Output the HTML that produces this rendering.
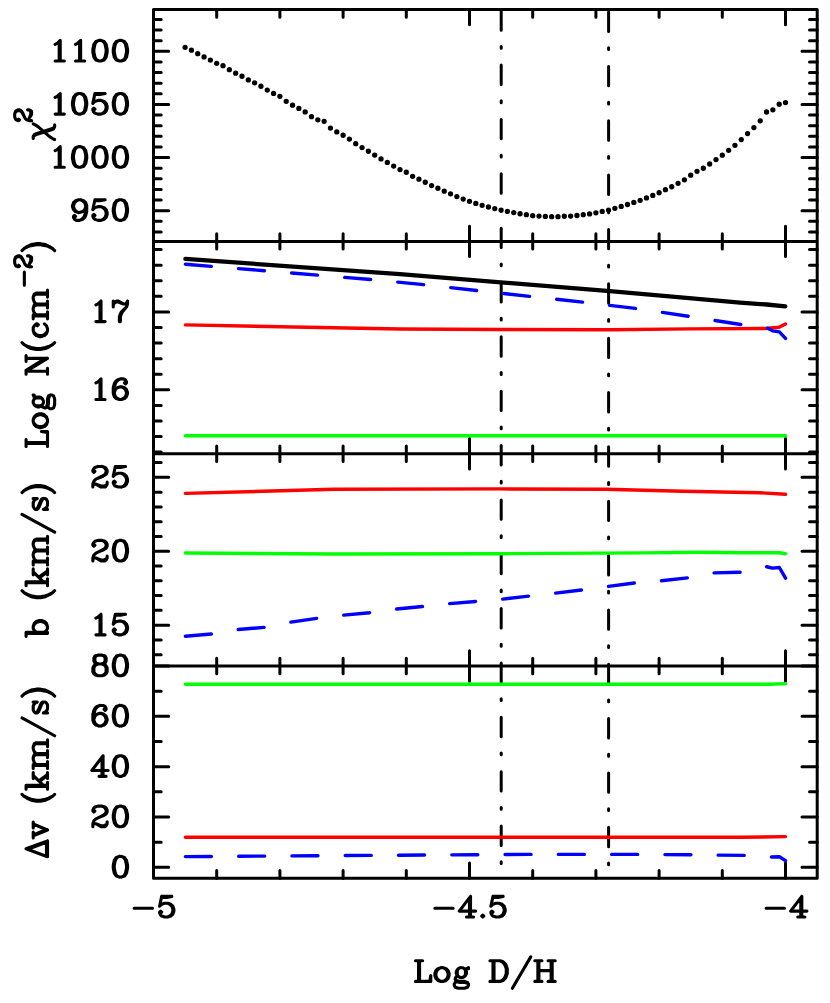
<!DOCTYPE html>
<html><head><meta charset="utf-8"><title>chart</title>
<style>html,body{margin:0;padding:0;background:#fff;font-family:"Liberation Sans",sans-serif}svg{display:block;position:absolute;left:0;top:0}</style></head>
<body><svg width="830" height="1003" viewBox="0 0 830 1003" fill="none" stroke-linecap="round" stroke-linejoin="round">
<path d="M153.5,9.6H817.2V878.2H153.5ZM153.5,241.4H817.2M153.5,453.7H817.2M153.5,666H817.2" stroke="#000" stroke-width="3" stroke-linejoin="round" stroke-linecap="butt"/>
<path d="M216.7,9.6V17.3M279.9,9.6V17.3M343.1,9.6V17.3M406.3,9.6V17.3M469.5,9.6V24.8M532.7,9.6V17.3M595.9,9.6V17.3M659.1,9.6V17.3M722.3,9.6V17.3M785.5,9.6V24.8M216.7,233.7V249.1M279.9,233.7V249.1M343.1,233.7V249.1M406.3,233.7V249.1M469.5,226.2V256.6M532.7,233.7V249.1M595.9,233.7V249.1M659.1,233.7V249.1M722.3,233.7V249.1M785.5,226.2V256.6M216.7,446V461.4M279.9,446V461.4M343.1,446V461.4M406.3,446V461.4M469.5,438.5V468.9M532.7,446V461.4M595.9,446V461.4M659.1,446V461.4M722.3,446V461.4M785.5,438.5V468.9M216.7,658.3V673.7M279.9,658.3V673.7M343.1,658.3V673.7M406.3,658.3V673.7M469.5,650.8V681.2M532.7,658.3V673.7M595.9,658.3V673.7M659.1,658.3V673.7M722.3,658.3V673.7M785.5,650.8V681.2M216.7,870.5V878.2M279.9,870.5V878.2M343.1,870.5V878.2M406.3,870.5V878.2M469.5,863V878.2M532.7,870.5V878.2M595.9,870.5V878.2M659.1,870.5V878.2M722.3,870.5V878.2M785.5,863V878.2" stroke="#000" stroke-width="3" />
<path d="M153.5,231.93H161.2M817.2,231.93H809.5M153.5,221.3H161.2M817.2,221.3H809.5M153.5,210.68H168.7M817.2,210.68H802M153.5,200.05H161.2M817.2,200.05H809.5M153.5,189.43H161.2M817.2,189.43H809.5M153.5,178.8H161.2M817.2,178.8H809.5M153.5,168.18H161.2M817.2,168.18H809.5M153.5,157.55H168.7M817.2,157.55H802M153.5,146.93H161.2M817.2,146.93H809.5M153.5,136.3H161.2M817.2,136.3H809.5M153.5,125.67H161.2M817.2,125.67H809.5M153.5,115.05H161.2M817.2,115.05H809.5M153.5,104.42H168.7M817.2,104.42H802M153.5,93.8H161.2M817.2,93.8H809.5M153.5,83.17H161.2M817.2,83.17H809.5M153.5,72.55H161.2M817.2,72.55H809.5M153.5,61.92H161.2M817.2,61.92H809.5M153.5,51.3H168.7M817.2,51.3H802M153.5,40.67H161.2M817.2,40.67H809.5M153.5,30.05H161.2M817.2,30.05H809.5M153.5,19.42H161.2M817.2,19.42H809.5M153.5,452.12H161.2M817.2,452.12H809.5M153.5,436.54H161.2M817.2,436.54H809.5M153.5,420.96H161.2M817.2,420.96H809.5M153.5,405.38H161.2M817.2,405.38H809.5M153.5,389.8H168.7M817.2,389.8H802M153.5,374.22H161.2M817.2,374.22H809.5M153.5,358.64H161.2M817.2,358.64H809.5M153.5,343.06H161.2M817.2,343.06H809.5M153.5,327.48H161.2M817.2,327.48H809.5M153.5,311.9H168.7M817.2,311.9H802M153.5,296.32H161.2M817.2,296.32H809.5M153.5,280.74H161.2M817.2,280.74H809.5M153.5,265.16H161.2M817.2,265.16H809.5M153.5,249.58H161.2M817.2,249.58H809.5M153.5,654.71H161.2M817.2,654.71H809.5M153.5,639.93H161.2M817.2,639.93H809.5M153.5,625.15H168.7M817.2,625.15H802M153.5,610.37H161.2M817.2,610.37H809.5M153.5,595.59H161.2M817.2,595.59H809.5M153.5,580.81H161.2M817.2,580.81H809.5M153.5,566.03H161.2M817.2,566.03H809.5M153.5,551.25H168.7M817.2,551.25H802M153.5,536.47H161.2M817.2,536.47H809.5M153.5,521.69H161.2M817.2,521.69H809.5M153.5,506.91H161.2M817.2,506.91H809.5M153.5,492.13H161.2M817.2,492.13H809.5M153.5,477.35H168.7M817.2,477.35H802M153.5,462.57H161.2M817.2,462.57H809.5M153.5,867.35H168.7M817.2,867.35H802M153.5,842.18H161.2M817.2,842.18H809.5M153.5,817.01H168.7M817.2,817.01H802M153.5,791.84H161.2M817.2,791.84H809.5M153.5,766.67H168.7M817.2,766.67H802M153.5,741.5H161.2M817.2,741.5H809.5M153.5,716.34H168.7M817.2,716.34H802M153.5,691.17H161.2M817.2,691.17H809.5M153.5,666H168.7M817.2,666H802" stroke="#000" stroke-width="3" />
<path d="M55.12,44.33L57.16,43.35L60.22,40.41L60.22,60.99M59.2,41.39L59.2,60.99M55.12,60.99L64.3,60.99M75.52,44.33L77.56,43.35L80.62,40.41L80.62,60.99M79.6,41.39L79.6,60.99M75.52,60.99L84.7,60.99M98.98,40.41L95.92,41.39L93.88,44.33L92.86,49.23L92.86,52.17L93.88,57.07L95.92,60.01L98.98,60.99L101.02,60.99L104.08,60.01L106.12,57.07L107.14,52.17L107.14,49.23L106.12,44.33L104.08,41.39L101.02,40.41L98.98,40.41M98.98,40.41L96.94,41.39L95.92,42.37L94.9,44.33L93.88,49.23L93.88,52.17L94.9,57.07L95.92,59.03L96.94,60.01L98.98,60.99M101.02,60.99L103.06,60.01L104.08,59.03L105.1,57.07L106.12,52.17L106.12,49.23L105.1,44.33L104.08,42.37L103.06,41.39L101.02,40.41M119.38,40.41L116.32,41.39L114.28,44.33L113.26,49.23L113.26,52.17L114.28,57.07L116.32,60.01L119.38,60.99L121.42,60.99L124.48,60.01L126.52,57.07L127.54,52.17L127.54,49.23L126.52,44.33L124.48,41.39L121.42,40.41L119.38,40.41M119.38,40.41L117.34,41.39L116.32,42.37L115.3,44.33L114.28,49.23L114.28,52.17L115.3,57.07L116.32,59.03L117.34,60.01L119.38,60.99M121.42,60.99L123.46,60.01L124.48,59.03L125.5,57.07L126.52,52.17L126.52,49.23L125.5,44.33L124.48,42.37L123.46,41.39L121.42,40.41M55.12,97.45L57.16,96.48L60.22,93.53L60.22,114.12M59.2,94.52L59.2,114.12M55.12,114.12L64.3,114.12M78.58,93.53L75.52,94.52L73.48,97.45L72.46,102.36L72.46,105.3L73.48,110.2L75.52,113.14L78.58,114.12L80.62,114.12L83.68,113.14L85.72,110.2L86.74,105.3L86.74,102.36L85.72,97.45L83.68,94.52L80.62,93.53L78.58,93.53M78.58,93.53L76.54,94.52L75.52,95.5L74.5,97.45L73.48,102.36L73.48,105.3L74.5,110.2L75.52,112.16L76.54,113.14L78.58,114.12M80.62,114.12L82.66,113.14L83.68,112.16L84.7,110.2L85.72,105.3L85.72,102.36L84.7,97.45L83.68,95.5L82.66,94.52L80.62,93.53M94.9,93.53L92.86,103.34M92.86,103.34L94.9,101.38L97.96,100.4L101.02,100.4L104.08,101.38L106.12,103.34L107.14,106.28L107.14,108.23L106.12,111.17L104.08,113.14L101.02,114.12L97.96,114.12L94.9,113.14L93.88,112.16L92.86,110.2L92.86,109.22L93.88,108.23L94.9,109.22L93.88,110.2M101.02,100.4L103.06,101.38L105.1,103.34L106.12,106.28L106.12,108.23L105.1,111.17L103.06,113.14L101.02,114.12M94.9,93.53L105.1,93.53M94.9,94.52L100,94.52L105.1,93.53M119.38,93.53L116.32,94.52L114.28,97.45L113.26,102.36L113.26,105.3L114.28,110.2L116.32,113.14L119.38,114.12L121.42,114.12L124.48,113.14L126.52,110.2L127.54,105.3L127.54,102.36L126.52,97.45L124.48,94.52L121.42,93.53L119.38,93.53M119.38,93.53L117.34,94.52L116.32,95.5L115.3,97.45L114.28,102.36L114.28,105.3L115.3,110.2L116.32,112.16L117.34,113.14L119.38,114.12M121.42,114.12L123.46,113.14L124.48,112.16L125.5,110.2L126.52,105.3L126.52,102.36L125.5,97.45L124.48,95.5L123.46,94.52L121.42,93.53M55.12,150.58L57.16,149.6L60.22,146.66L60.22,167.24M59.2,147.64L59.2,167.24M55.12,167.24L64.3,167.24M78.58,146.66L75.52,147.64L73.48,150.58L72.46,155.48L72.46,158.42L73.48,163.32L75.52,166.26L78.58,167.24L80.62,167.24L83.68,166.26L85.72,163.32L86.74,158.42L86.74,155.48L85.72,150.58L83.68,147.64L80.62,146.66L78.58,146.66M78.58,146.66L76.54,147.64L75.52,148.62L74.5,150.58L73.48,155.48L73.48,158.42L74.5,163.32L75.52,165.28L76.54,166.26L78.58,167.24M80.62,167.24L82.66,166.26L83.68,165.28L84.7,163.32L85.72,158.42L85.72,155.48L84.7,150.58L83.68,148.62L82.66,147.64L80.62,146.66M98.98,146.66L95.92,147.64L93.88,150.58L92.86,155.48L92.86,158.42L93.88,163.32L95.92,166.26L98.98,167.24L101.02,167.24L104.08,166.26L106.12,163.32L107.14,158.42L107.14,155.48L106.12,150.58L104.08,147.64L101.02,146.66L98.98,146.66M98.98,146.66L96.94,147.64L95.92,148.62L94.9,150.58L93.88,155.48L93.88,158.42L94.9,163.32L95.92,165.28L96.94,166.26L98.98,167.24M101.02,167.24L103.06,166.26L104.08,165.28L105.1,163.32L106.12,158.42L106.12,155.48L105.1,150.58L104.08,148.62L103.06,147.64L101.02,146.66M119.38,146.66L116.32,147.64L114.28,150.58L113.26,155.48L113.26,158.42L114.28,163.32L116.32,166.26L119.38,167.24L121.42,167.24L124.48,166.26L126.52,163.32L127.54,158.42L127.54,155.48L126.52,150.58L124.48,147.64L121.42,146.66L119.38,146.66M119.38,146.66L117.34,147.64L116.32,148.62L115.3,150.58L114.28,155.48L114.28,158.42L115.3,163.32L116.32,165.28L117.34,166.26L119.38,167.24M121.42,167.24L123.46,166.26L124.48,165.28L125.5,163.32L126.52,158.42L126.52,155.48L125.5,150.58L124.48,148.62L123.46,147.64L121.42,146.66M85.72,206.65L84.7,209.59L82.66,211.55L79.6,212.53L78.58,212.53L75.52,211.55L73.48,209.59L72.46,206.65L72.46,205.67L73.48,202.73L75.52,200.77L78.58,199.79L80.62,199.79L83.68,200.77L85.72,202.73L86.74,205.67L86.74,211.55L85.72,215.47L84.7,217.43L82.66,219.39L79.6,220.37L76.54,220.37L74.5,219.39L73.48,217.43L73.48,216.45L74.5,215.47L75.52,216.45L74.5,217.43M78.58,212.53L76.54,211.55L74.5,209.59L73.48,206.65L73.48,205.67L74.5,202.73L76.54,200.77L78.58,199.79M80.62,199.79L82.66,200.77L84.7,202.73L85.72,205.67L85.72,211.55L84.7,215.47L83.68,217.43L81.64,219.39L79.6,220.37M94.9,199.79L92.86,209.59M92.86,209.59L94.9,207.63L97.96,206.65L101.02,206.65L104.08,207.63L106.12,209.59L107.14,212.53L107.14,214.49L106.12,217.43L104.08,219.39L101.02,220.37L97.96,220.37L94.9,219.39L93.88,218.41L92.86,216.45L92.86,215.47L93.88,214.49L94.9,215.47L93.88,216.45M101.02,206.65L103.06,207.63L105.1,209.59L106.12,212.53L106.12,214.49L105.1,217.43L103.06,219.39L101.02,220.37M94.9,199.79L105.1,199.79M94.9,200.77L100,200.77L105.1,199.79M119.38,199.79L116.32,200.77L114.28,203.71L113.26,208.61L113.26,211.55L114.28,216.45L116.32,219.39L119.38,220.37L121.42,220.37L124.48,219.39L126.52,216.45L127.54,211.55L127.54,208.61L126.52,203.71L124.48,200.77L121.42,199.79L119.38,199.79M119.38,199.79L117.34,200.77L116.32,201.75L115.3,203.71L114.28,208.61L114.28,211.55L115.3,216.45L116.32,218.41L117.34,219.39L119.38,220.37M121.42,220.37L123.46,219.39L124.48,218.41L125.5,216.45L126.52,211.55L126.52,208.61L125.5,203.71L124.48,201.75L123.46,200.77L121.42,199.79M95.92,304.93L97.96,303.95L101.02,301.01L101.02,321.59M100,301.99L100,321.59M95.92,321.59L105.1,321.59M113.26,301.01L113.26,306.89M113.26,304.93L114.28,302.97L116.32,301.01L118.36,301.01L123.46,303.95L125.5,303.95L126.52,302.97L127.54,301.01M114.28,302.97L116.32,301.99L118.36,301.99L123.46,303.95M127.54,301.01L127.54,303.95L126.52,306.89L122.44,311.79L121.42,313.75L120.4,316.69L120.4,321.59M126.52,306.89L121.42,311.79L120.4,313.75L119.38,316.69L119.38,321.59M95.92,382.83L97.96,381.85L101.02,378.91L101.02,399.49M100,379.89L100,399.49M95.92,399.49L105.1,399.49M125.5,381.85L124.48,382.83L125.5,383.81L126.52,382.83L126.52,381.85L125.5,379.89L123.46,378.91L120.4,378.91L117.34,379.89L115.3,381.85L114.28,383.81L113.26,387.73L113.26,393.61L114.28,396.55L116.32,398.51L119.38,399.49L121.42,399.49L124.48,398.51L126.52,396.55L127.54,393.61L127.54,392.63L126.52,389.69L124.48,387.73L121.42,386.75L120.4,386.75L117.34,387.73L115.3,389.69L114.28,392.63M120.4,378.91L118.36,379.89L116.32,381.85L115.3,383.81L114.28,387.73L114.28,393.61L115.3,396.55L117.34,398.51L119.38,399.49M121.42,399.49L123.46,398.51L125.5,396.55L126.52,393.61L126.52,392.63L125.5,389.69L123.46,387.73L121.42,386.75M93.88,470.38L94.9,471.36L93.88,472.34L92.86,471.36L92.86,470.38L93.88,468.42L94.9,467.44L97.96,466.46L102.04,466.46L105.1,467.44L106.12,468.42L107.14,470.38L107.14,472.34L106.12,474.3L103.06,476.26L97.96,478.22L95.92,479.2L93.88,481.16L92.86,484.1L92.86,487.04M102.04,466.46L104.08,467.44L105.1,468.42L106.12,470.38L106.12,472.34L105.1,474.3L102.04,476.26L97.96,478.22M92.86,485.08L93.88,484.1L95.92,484.1L101.02,486.06L104.08,486.06L106.12,485.08L107.14,484.1M95.92,484.1L101.02,487.04L105.1,487.04L106.12,486.06L107.14,484.1L107.14,482.14M115.3,466.46L113.26,476.26M113.26,476.26L115.3,474.3L118.36,473.32L121.42,473.32L124.48,474.3L126.52,476.26L127.54,479.2L127.54,481.16L126.52,484.1L124.48,486.06L121.42,487.04L118.36,487.04L115.3,486.06L114.28,485.08L113.26,483.12L113.26,482.14L114.28,481.16L115.3,482.14L114.28,483.12M121.42,473.32L123.46,474.3L125.5,476.26L126.52,479.2L126.52,481.16L125.5,484.1L123.46,486.06L121.42,487.04M115.3,466.46L125.5,466.46M115.3,467.44L120.4,467.44L125.5,466.46M93.88,544.28L94.9,545.26L93.88,546.24L92.86,545.26L92.86,544.28L93.88,542.32L94.9,541.34L97.96,540.36L102.04,540.36L105.1,541.34L106.12,542.32L107.14,544.28L107.14,546.24L106.12,548.2L103.06,550.16L97.96,552.12L95.92,553.1L93.88,555.06L92.86,558L92.86,560.94M102.04,540.36L104.08,541.34L105.1,542.32L106.12,544.28L106.12,546.24L105.1,548.2L102.04,550.16L97.96,552.12M92.86,558.98L93.88,558L95.92,558L101.02,559.96L104.08,559.96L106.12,558.98L107.14,558M95.92,558L101.02,560.94L105.1,560.94L106.12,559.96L107.14,558L107.14,556.04M119.38,540.36L116.32,541.34L114.28,544.28L113.26,549.18L113.26,552.12L114.28,557.02L116.32,559.96L119.38,560.94L121.42,560.94L124.48,559.96L126.52,557.02L127.54,552.12L127.54,549.18L126.52,544.28L124.48,541.34L121.42,540.36L119.38,540.36M119.38,540.36L117.34,541.34L116.32,542.32L115.3,544.28L114.28,549.18L114.28,552.12L115.3,557.02L116.32,558.98L117.34,559.96L119.38,560.94M121.42,560.94L123.46,559.96L124.48,558.98L125.5,557.02L126.52,552.12L126.52,549.18L125.5,544.28L124.48,542.32L123.46,541.34L121.42,540.36M95.92,618.18L97.96,617.2L101.02,614.26L101.02,634.84M100,615.24L100,634.84M95.92,634.84L105.1,634.84M115.3,614.26L113.26,624.06M113.26,624.06L115.3,622.1L118.36,621.12L121.42,621.12L124.48,622.1L126.52,624.06L127.54,627L127.54,628.96L126.52,631.9L124.48,633.86L121.42,634.84L118.36,634.84L115.3,633.86L114.28,632.88L113.26,630.92L113.26,629.94L114.28,628.96L115.3,629.94L114.28,630.92M121.42,621.12L123.46,622.1L125.5,624.06L126.52,627L126.52,628.96L125.5,631.9L123.46,633.86L121.42,634.84M115.3,614.26L125.5,614.26M115.3,615.24L120.4,615.24L125.5,614.26M97.96,655.11L94.9,656.09L93.88,658.05L93.88,660.99L94.9,662.95L97.96,663.93L102.04,663.93L105.1,662.95L106.12,660.99L106.12,658.05L105.1,656.09L102.04,655.11L97.96,655.11M97.96,655.11L95.92,656.09L94.9,658.05L94.9,660.99L95.92,662.95L97.96,663.93M102.04,663.93L104.08,662.95L105.1,660.99L105.1,658.05L104.08,656.09L102.04,655.11M97.96,663.93L94.9,664.91L93.88,665.89L92.86,667.85L92.86,671.77L93.88,673.73L94.9,674.71L97.96,675.69L102.04,675.69L105.1,674.71L106.12,673.73L107.14,671.77L107.14,667.85L106.12,665.89L105.1,664.91L102.04,663.93M97.96,663.93L95.92,664.91L94.9,665.89L93.88,667.85L93.88,671.77L94.9,673.73L95.92,674.71L97.96,675.69M102.04,675.69L104.08,674.71L105.1,673.73L106.12,671.77L106.12,667.85L105.1,665.89L104.08,664.91L102.04,663.93M119.38,655.11L116.32,656.09L114.28,659.03L113.26,663.93L113.26,666.87L114.28,671.77L116.32,674.71L119.38,675.69L121.42,675.69L124.48,674.71L126.52,671.77L127.54,666.87L127.54,663.93L126.52,659.03L124.48,656.09L121.42,655.11L119.38,655.11M119.38,655.11L117.34,656.09L116.32,657.07L115.3,659.03L114.28,663.93L114.28,666.87L115.3,671.77L116.32,673.73L117.34,674.71L119.38,675.69M121.42,675.69L123.46,674.71L124.48,673.73L125.5,671.77L126.52,666.87L126.52,663.93L125.5,659.03L124.48,657.07L123.46,656.09L121.42,655.11M105.1,708.39L104.08,709.37L105.1,710.35L106.12,709.37L106.12,708.39L105.1,706.43L103.06,705.45L100,705.45L96.94,706.43L94.9,708.39L93.88,710.35L92.86,714.27L92.86,720.15L93.88,723.09L95.92,725.05L98.98,726.03L101.02,726.03L104.08,725.05L106.12,723.09L107.14,720.15L107.14,719.17L106.12,716.23L104.08,714.27L101.02,713.29L100,713.29L96.94,714.27L94.9,716.23L93.88,719.17M100,705.45L97.96,706.43L95.92,708.39L94.9,710.35L93.88,714.27L93.88,720.15L94.9,723.09L96.94,725.05L98.98,726.03M101.02,726.03L103.06,725.05L105.1,723.09L106.12,720.15L106.12,719.17L105.1,716.23L103.06,714.27L101.02,713.29M119.38,705.45L116.32,706.43L114.28,709.37L113.26,714.27L113.26,717.21L114.28,722.11L116.32,725.05L119.38,726.03L121.42,726.03L124.48,725.05L126.52,722.11L127.54,717.21L127.54,714.27L126.52,709.37L124.48,706.43L121.42,705.45L119.38,705.45M119.38,705.45L117.34,706.43L116.32,707.41L115.3,709.37L114.28,714.27L114.28,717.21L115.3,722.11L116.32,724.07L117.34,725.05L119.38,726.03M121.42,726.03L123.46,725.05L124.48,724.07L125.5,722.11L126.52,717.21L126.52,714.27L125.5,709.37L124.48,707.41L123.46,706.43L121.42,705.45M102.04,757.74L102.04,776.36M103.06,755.78L103.06,776.36M103.06,755.78L91.84,770.48L108.16,770.48M98.98,776.36L106.12,776.36M119.38,755.78L116.32,756.76L114.28,759.7L113.26,764.6L113.26,767.54L114.28,772.44L116.32,775.38L119.38,776.36L121.42,776.36L124.48,775.38L126.52,772.44L127.54,767.54L127.54,764.6L126.52,759.7L124.48,756.76L121.42,755.78L119.38,755.78M119.38,755.78L117.34,756.76L116.32,757.74L115.3,759.7L114.28,764.6L114.28,767.54L115.3,772.44L116.32,774.4L117.34,775.38L119.38,776.36M121.42,776.36L123.46,775.38L124.48,774.4L125.5,772.44L126.52,767.54L126.52,764.6L125.5,759.7L124.48,757.74L123.46,756.76L121.42,755.78M93.88,810.04L94.9,811.02L93.88,812L92.86,811.02L92.86,810.04L93.88,808.08L94.9,807.1L97.96,806.12L102.04,806.12L105.1,807.1L106.12,808.08L107.14,810.04L107.14,812L106.12,813.96L103.06,815.92L97.96,817.88L95.92,818.86L93.88,820.82L92.86,823.76L92.86,826.7M102.04,806.12L104.08,807.1L105.1,808.08L106.12,810.04L106.12,812L105.1,813.96L102.04,815.92L97.96,817.88M92.86,824.74L93.88,823.76L95.92,823.76L101.02,825.72L104.08,825.72L106.12,824.74L107.14,823.76M95.92,823.76L101.02,826.7L105.1,826.7L106.12,825.72L107.14,823.76L107.14,821.8M119.38,806.12L116.32,807.1L114.28,810.04L113.26,814.94L113.26,817.88L114.28,822.78L116.32,825.72L119.38,826.7L121.42,826.7L124.48,825.72L126.52,822.78L127.54,817.88L127.54,814.94L126.52,810.04L124.48,807.1L121.42,806.12L119.38,806.12M119.38,806.12L117.34,807.1L116.32,808.08L115.3,810.04L114.28,814.94L114.28,817.88L115.3,822.78L116.32,824.74L117.34,825.72L119.38,826.7M121.42,826.7L123.46,825.72L124.48,824.74L125.5,822.78L126.52,817.88L126.52,814.94L125.5,810.04L124.48,808.08L123.46,807.1L121.42,806.12M119.38,856.46L116.32,857.44L114.28,860.38L113.26,865.28L113.26,868.22L114.28,873.12L116.32,876.06L119.38,877.04L121.42,877.04L124.48,876.06L126.52,873.12L127.54,868.22L127.54,865.28L126.52,860.38L124.48,857.44L121.42,856.46L119.38,856.46M119.38,856.46L117.34,857.44L116.32,858.42L115.3,860.38L114.28,865.28L114.28,868.22L115.3,873.12L116.32,875.08L117.34,876.06L119.38,877.04M121.42,877.04L123.46,876.06L124.48,875.08L125.5,873.12L126.52,868.22L126.52,865.28L125.5,860.38L124.48,858.42L123.46,857.44L121.42,856.46M134.12,908.18L152.48,908.18M161.66,896.42L159.62,906.22M159.62,906.22L161.66,904.26L164.72,903.28L167.78,903.28L170.84,904.26L172.88,906.22L173.9,909.16L173.9,911.12L172.88,914.06L170.84,916.02L167.78,917L164.72,917L161.66,916.02L160.64,915.04L159.62,913.08L159.62,912.1L160.64,911.12L161.66,912.1L160.64,913.08M167.78,903.28L169.82,904.26L171.86,906.22L172.88,909.16L172.88,911.12L171.86,914.06L169.82,916.02L167.78,917M161.66,896.42L171.86,896.42M161.66,897.4L166.76,897.4L171.86,896.42M434.82,908.18L453.18,908.18M469.5,898.38L469.5,917M470.52,896.42L470.52,917M470.52,896.42L459.3,911.12L475.62,911.12M466.44,917L473.58,917M482.76,915.04L481.74,916.02L482.76,917L483.78,916.02L482.76,915.04M492.96,896.42L490.92,906.22M490.92,906.22L492.96,904.26L496.02,903.28L499.08,903.28L502.14,904.26L504.18,906.22L505.2,909.16L505.2,911.12L504.18,914.06L502.14,916.02L499.08,917L496.02,917L492.96,916.02L491.94,915.04L490.92,913.08L490.92,912.1L491.94,911.12L492.96,912.1L491.94,913.08M499.08,903.28L501.12,904.26L503.16,906.22L504.18,909.16L504.18,911.12L503.16,914.06L501.12,916.02L499.08,917M492.96,896.42L503.16,896.42M492.96,897.4L498.06,897.4L503.16,896.42M766.12,908.18L784.48,908.18M800.8,898.38L800.8,917M801.82,896.42L801.82,917M801.82,896.42L790.6,911.12L806.92,911.12M797.74,917L804.88,917M418.54,960.82L418.54,981.4M419.56,960.82L419.56,981.4M415.48,960.82L422.62,960.82M415.48,981.4L430.78,981.4L430.78,975.52L429.76,981.4M440.98,967.68L437.92,968.66L435.88,970.62L434.86,973.56L434.86,975.52L435.88,978.46L437.92,980.42L440.98,981.4L443.02,981.4L446.08,980.42L448.12,978.46L449.14,975.52L449.14,973.56L448.12,970.62L446.08,968.66L443.02,967.68L440.98,967.68M440.98,967.68L438.94,968.66L436.9,970.62L435.88,973.56L435.88,975.52L436.9,978.46L438.94,980.42L440.98,981.4M443.02,981.4L445.06,980.42L447.1,978.46L448.12,975.52L448.12,973.56L447.1,970.62L445.06,968.66L443.02,967.68M460.36,967.68L458.32,968.66L457.3,969.64L456.28,971.6L456.28,973.56L457.3,975.52L458.32,976.5L460.36,977.48L462.4,977.48L464.44,976.5L465.46,975.52L466.48,973.56L466.48,971.6L465.46,969.64L464.44,968.66L462.4,967.68L460.36,967.68M458.32,968.66L457.3,970.62L457.3,974.54L458.32,976.5M464.44,976.5L465.46,974.54L465.46,970.62L464.44,968.66M465.46,969.64L466.48,968.66L468.52,967.68L468.52,968.66L466.48,968.66M457.3,975.52L456.28,976.5L455.26,978.46L455.26,979.44L456.28,981.4L459.34,982.38L464.44,982.38L467.5,983.36L468.52,984.34M455.26,979.44L456.28,980.42L459.34,981.4L464.44,981.4L467.5,982.38L468.52,984.34L468.52,985.32L467.5,987.28L464.44,988.26L458.32,988.26L455.26,987.28L454.24,985.32L454.24,984.34L455.26,982.38L458.32,981.4M493,960.82L493,981.4M494.02,960.82L494.02,981.4M489.94,960.82L500.14,960.82L503.2,961.8L505.24,963.76L506.26,965.72L507.28,968.66L507.28,973.56L506.26,976.5L505.24,978.46L503.2,980.42L500.14,981.4L489.94,981.4M500.14,960.82L502.18,961.8L504.22,963.76L505.24,965.72L506.26,968.66L506.26,973.56L505.24,976.5L504.22,978.46L502.18,980.42L500.14,981.4M530.74,956.9L512.38,988.26M537.88,960.82L537.88,981.4M538.9,960.82L538.9,981.4M551.14,960.82L551.14,981.4M552.16,960.82L552.16,981.4M534.82,960.82L541.96,960.82M548.08,960.82L555.22,960.82M538.9,970.62L551.14,970.62M534.82,981.4L541.96,981.4M548.08,981.4L555.22,981.4" stroke="#000" stroke-width="3.1" />
<path d="M33.22,138.53L33.22,136.58L34.24,134.63L36.28,133.65L51.58,128.78L53.62,127.81L54.64,126.83M33.22,136.58L34.24,135.6L36.28,134.63L51.58,129.76L53.62,128.78L54.64,126.83L54.64,124.88M33.22,123.91L35.26,124.88L38.32,126.83L49.54,136.58L52.6,138.53L54.64,139.5M17.89,119.86L18.7,119.09L19.5,119.86L18.7,120.63L17.89,120.63L16.28,119.86L15.47,119.09L14.67,116.78L14.67,113.7L15.47,111.39L16.28,110.62L17.89,109.85L19.5,109.85L21.11,110.62L22.72,112.93L24.34,116.78L25.14,118.32L26.75,119.86L29.17,120.63L31.59,120.63M14.67,113.7L15.47,112.16L16.28,111.39L17.89,110.62L19.5,110.62L21.11,111.39L22.72,113.7L24.34,116.78M29.98,120.63L29.17,119.86L29.17,118.32L30.78,114.47L30.78,112.16L29.98,110.62L29.17,109.85M29.17,118.32L31.59,114.47L31.59,111.39L30.78,110.62L29.17,109.85L27.56,109.85" stroke="#000" stroke-width="3.1" />
<path d="M26.08,443.43L47.5,443.43M26.08,442.44L47.5,442.44M26.08,446.4L26.08,439.48M47.5,446.4L47.5,431.57L41.38,431.57L47.5,432.56M33.22,421.68L34.24,424.65L36.28,426.62L39.34,427.61L41.38,427.61L44.44,426.62L46.48,424.65L47.5,421.68L47.5,419.7L46.48,416.74L44.44,414.76L41.38,413.77L39.34,413.77L36.28,414.76L34.24,416.74L33.22,419.7L33.22,421.68M33.22,421.68L34.24,423.66L36.28,425.63L39.34,426.62L41.38,426.62L44.44,425.63L46.48,423.66L47.5,421.68M47.5,419.7L46.48,417.72L44.44,415.75L41.38,414.76L39.34,414.76L36.28,415.75L34.24,417.72L33.22,419.7M33.22,402.89L34.24,404.87L35.26,405.86L37.3,406.85L39.34,406.85L41.38,405.86L42.4,404.87L43.42,402.89L43.42,400.91L42.4,398.94L41.38,397.95L39.34,396.96L37.3,396.96L35.26,397.95L34.24,398.94L33.22,400.91L33.22,402.89M34.24,404.87L36.28,405.86L40.36,405.86L42.4,404.87M42.4,398.94L40.36,397.95L36.28,397.95L34.24,398.94M35.26,397.95L34.24,396.96L33.22,394.98L34.24,394.98L34.24,396.96M41.38,405.86L42.4,406.85L44.44,407.84L45.46,407.84L47.5,406.85L48.52,403.88L48.52,398.94L49.54,395.97L50.56,394.98M45.46,407.84L46.48,406.85L47.5,403.88L47.5,398.94L48.52,395.97L50.56,394.98L51.58,394.98L53.62,395.97L54.64,398.94L54.64,404.87L53.62,407.84L51.58,408.82L50.56,408.82L48.52,407.84L47.5,404.87M26.08,371.25L47.5,371.25M26.08,370.26L45.46,358.39M28.12,370.26L47.5,358.39M26.08,358.39L47.5,358.39M26.08,374.22L26.08,370.26M26.08,361.36L26.08,355.43M47.5,374.22L47.5,368.28M22,342.57L24.04,344.55L27.1,346.53L31.18,348.51L36.28,349.49L40.36,349.49L45.46,348.51L49.54,346.53L52.6,344.55L54.64,342.57M24.04,344.55L28.12,346.53L31.18,347.52L36.28,348.51L40.36,348.51L45.46,347.52L48.52,346.53L52.6,344.55M36.28,324.77L37.3,325.76L38.32,324.77L37.3,323.78L36.28,323.78L34.24,325.76L33.22,327.74L33.22,330.71L34.24,333.67L36.28,335.65L39.34,336.64L41.38,336.64L44.44,335.65L46.48,333.67L47.5,330.71L47.5,328.73L46.48,325.76L44.44,323.78M33.22,330.71L34.24,332.68L36.28,334.66L39.34,335.65L41.38,335.65L44.44,334.66L46.48,332.68L47.5,330.71M33.22,315.87L47.5,315.87M33.22,314.89L47.5,314.89M36.28,314.89L34.24,312.91L33.22,309.94L33.22,307.96L34.24,305L36.28,304.01L47.5,304.01M33.22,307.96L34.24,305.99L36.28,305L47.5,305M36.28,304.01L34.24,302.03L33.22,299.06L33.22,297.09L34.24,294.12L36.28,293.13L47.5,293.13M33.22,297.09L34.24,295.11L36.28,294.12L47.5,294.12M33.22,318.84L33.22,314.89M47.5,318.84L47.5,311.92M47.5,307.96L47.5,301.04M47.5,297.09L47.5,290.16M24.34,285.26L24.34,272.09M17.89,266.04L18.7,265.26L19.5,266.04L18.7,266.82L17.89,266.82L16.28,266.04L15.47,265.26L14.67,262.91L14.67,259.79L15.47,257.44L16.28,256.66L17.89,255.88L19.5,255.88L21.11,256.66L22.72,259.01L24.34,262.91L25.14,264.47L26.75,266.04L29.17,266.82L31.59,266.82M14.67,259.79L15.47,258.23L16.28,257.44L17.89,256.66L19.5,256.66L21.11,257.44L22.72,259.79L24.34,262.91M29.98,266.82L29.17,266.04L29.17,264.47L30.78,260.57L30.78,258.23L29.98,256.66L29.17,255.88M29.17,264.47L31.59,260.57L31.59,257.44L30.78,256.66L29.17,255.88L27.56,255.88M22,250.57L24.04,248.59L27.1,246.62L31.18,244.64L36.28,243.65L40.36,243.65L45.46,244.64L49.54,246.62L52.6,248.59L54.64,250.57M24.04,248.59L28.12,246.62L31.18,245.63L36.28,244.64L40.36,244.64L45.46,245.63L48.52,246.62L52.6,248.59" stroke="#000" stroke-width="3.1" />
<path d="M26.08,633.37L47.5,633.37M26.08,632.38L47.5,632.38M36.28,632.38L34.24,630.4L33.22,628.42L33.22,626.43L34.24,623.46L36.28,621.47L39.34,620.48L41.38,620.48L44.44,621.47L46.48,623.46L47.5,626.43L47.5,628.42L46.48,630.4L44.44,632.38M33.22,626.43L34.24,624.45L36.28,622.47L39.34,621.47L41.38,621.47L44.44,622.47L46.48,624.45L47.5,626.43M26.08,636.35L26.08,632.38M22,590.73L24.04,592.71L27.1,594.7L31.18,596.68L36.28,597.67L40.36,597.67L45.46,596.68L49.54,594.7L52.6,592.71L54.64,590.73M24.04,592.71L28.12,594.7L31.18,595.69L36.28,596.68L40.36,596.68L45.46,595.69L48.52,594.7L52.6,592.71M26.08,582.79L47.5,582.79M26.08,581.8L47.5,581.8M33.22,571.88L43.42,581.8M39.34,576.84L47.5,570.89M39.34,577.84L47.5,571.88M26.08,585.77L26.08,581.8M33.22,574.86L33.22,568.91M47.5,585.77L47.5,578.83M47.5,574.86L47.5,568.91M33.22,561.97L47.5,561.97M33.22,560.98L47.5,560.98M36.28,560.98L34.24,558.99L33.22,556.02L33.22,554.03L34.24,551.06L36.28,550.07L47.5,550.07M33.22,554.03L34.24,552.05L36.28,551.06L47.5,551.06M36.28,550.07L34.24,548.08L33.22,545.11L33.22,543.12L34.24,540.15L36.28,539.16L47.5,539.16M33.22,543.12L34.24,541.14L36.28,540.15L47.5,540.15M33.22,564.94L33.22,560.98M47.5,564.94L47.5,558M47.5,554.03L47.5,547.09M47.5,543.12L47.5,536.18M22,514.36L54.64,532.21M35.26,499.48L33.22,498.49L37.3,498.49L35.26,499.48L34.24,500.48L33.22,502.46L33.22,506.43L34.24,508.41L35.26,509.4L37.3,509.4L38.32,508.41L39.34,506.43L41.38,501.47L42.4,499.48L43.42,498.49M36.28,509.4L37.3,508.41L38.32,506.43L40.36,501.47L41.38,499.48L42.4,498.49L45.46,498.49L46.48,499.48L47.5,501.47L47.5,505.44L46.48,507.42L45.46,508.41L43.42,509.4L47.5,509.4L45.46,508.41M22,492.54L24.04,490.56L27.1,488.58L31.18,486.59L36.28,485.6L40.36,485.6L45.46,486.59L49.54,488.58L52.6,490.56L54.64,492.54M24.04,490.56L28.12,488.58L31.18,487.58L36.28,486.59L40.36,486.59L45.46,487.58L48.52,488.58L52.6,490.56" stroke="#000" stroke-width="3.1" />
<path d="M26.08,848.82L47.5,856.75M26.08,848.82L47.5,840.88M29.14,848.82L47.5,841.87M46.48,855.76L46.48,841.87M47.5,856.75L47.5,840.88M33.22,835.92L47.5,829.97M33.22,834.93L45.46,829.97M33.22,824.02L47.5,829.97M33.22,837.91L33.22,831.96M33.22,827.99L33.22,822.04M22,794.27L24.04,796.26L27.1,798.24L31.18,800.22L36.28,801.21L40.36,801.21L45.46,800.22L49.54,798.24L52.6,796.26L54.64,794.27M24.04,796.26L28.12,798.24L31.18,799.23L36.28,800.22L40.36,800.22L45.46,799.23L48.52,798.24L52.6,796.26M26.08,786.34L47.5,786.34M26.08,785.35L47.5,785.35M33.22,775.43L43.42,785.35M39.34,780.39L47.5,774.44M39.34,781.38L47.5,775.43M26.08,789.31L26.08,785.35M33.22,778.4L33.22,772.45M47.5,789.31L47.5,782.37M47.5,778.4L47.5,772.45M33.22,765.51L47.5,765.51M33.22,764.52L47.5,764.52M36.28,764.52L34.24,762.54L33.22,759.56L33.22,757.58L34.24,754.6L36.28,753.61L47.5,753.61M33.22,757.58L34.24,755.59L36.28,754.6L47.5,754.6M36.28,753.61L34.24,751.63L33.22,748.65L33.22,746.67L34.24,743.69L36.28,742.7L47.5,742.7M33.22,746.67L34.24,744.69L36.28,743.69L47.5,743.69M33.22,768.49L33.22,764.52M47.5,768.49L47.5,761.55M47.5,757.58L47.5,750.64M47.5,746.67L47.5,739.73M22,717.91L54.64,735.76M35.26,703.03L33.22,702.04L37.3,702.04L35.26,703.03L34.24,704.03L33.22,706.01L33.22,709.98L34.24,711.96L35.26,712.95L37.3,712.95L38.32,711.96L39.34,709.98L41.38,705.02L42.4,703.03L43.42,702.04M36.28,712.95L37.3,711.96L38.32,709.98L40.36,705.02L41.38,703.03L42.4,702.04L45.46,702.04L46.48,703.03L47.5,705.02L47.5,708.98L46.48,710.97L45.46,711.96L43.42,712.95L47.5,712.95L45.46,711.96M22,696.09L24.04,694.11L27.1,692.13L31.18,690.14L36.28,689.15L40.36,689.15L45.46,690.14L49.54,692.13L52.6,694.11L54.64,696.09M24.04,694.11L28.12,692.13L31.18,691.13L36.28,690.14L40.36,690.14L45.46,691.13L48.52,692.13L52.6,694.11" stroke="#000" stroke-width="3.1" />
<path d="M501.2,10.75V878.2" stroke="#000" stroke-width="3" stroke-dasharray="19.4 16.35 1.8 16.8"/>
<path d="M608.6,12.05V878.2" stroke="#000" stroke-width="3" stroke-dasharray="19.4 16.35 1.8 16.8"/>
<path d="M185.1,47.33h0M191.42,50.22h0M197.74,53.69h0M204.06,56.96h0M210.38,60.05h0M216.7,63.33h0M223.02,65.64h0M229.34,69.69h0M235.66,73.16h0M241.98,76.24h0M248.3,79.9h0M254.62,82.8h0M260.94,86.27h0M267.26,90.12h0M273.58,93.4h0M279.9,96.29h0M286.22,101.3h0M292.54,105.16h0M298.86,108.43h0M305.18,111.9h0M311.5,116.72h0M317.82,119.81h0M324.14,121.35h0M330.46,128.1h0M336.78,131.95h0M343.1,135.23h0M349.42,139.08h0M355.74,143.71h0M362.06,147.57h0M368.38,151.23h0M374.7,155.08h0M381.02,158.94h0M387.34,162.41h0M393.66,166.07h0M399.98,169.54h0M406.3,172.24h0M412.62,176.29h0M418.94,179.18h0M425.26,182.27h0M431.58,185.54h0M437.9,188.24h0M444.22,191.13h0M450.54,193.83h0M456.86,196.53h0M463.18,199.04h0M469.5,201.35h0M475.82,203.47h0M482.14,205.34h0M488.46,206.98h0M494.78,208.55h0M501.1,210.1h0M507.42,211.45h0M513.74,212.6h0M520.06,213.76h0M526.38,214.72h0M532.7,215.69h0M539.02,216.07h0M545.34,216.46h0M551.66,216.65h0M557.98,216.65h0M564.3,216.27h0M570.62,216.07h0M576.94,215.49h0M583.26,214.72h0M589.58,213.95h0M595.9,212.8h0M602.22,211.45h0M608.54,210.1h0M614.86,208.36h0M621.18,206.43h0M627.5,204.51h0M633.82,202.39h0M640.14,200.36h0M646.46,197.95h0M652.78,195.45h0M659.1,192.75h0M665.42,189.66h0M671.74,186.77h0M678.06,183.3h0M684.38,179.83h0M690.7,175.2h0M697.02,171.35h0M703.34,168.27h0M709.66,164.02h0M715.98,159.59h0M722.3,155.16h0M728.62,150.34h0M734.94,145.33h0M741.26,139.54h0M747.58,133.57h0M753.9,127.59h0M760.22,120.84h0M766.54,111.98h0M772.86,109.86h0M779.18,104.27h0M785.5,102.53h0" stroke="#000" stroke-width="5.3" />
<path d="M185.4,258.9L400,274.2L610,291.2L740,302.6L766.7,304.5L785.3,306.3" stroke="#000" stroke-width="4.3" />
<path d="M185.4,435.8L785.5,435.8" stroke="#0f0" stroke-width="3.4" />
<path d="M185.4,324.9L400,329L500,329.5L610,329.7L689.5,328.9L765.3,328.5L779,327.2L785.5,324" stroke="#f00" stroke-width="3.4" />
<path d="M185.4,264.2L370.8,279.5L423.9,284.7L582.9,302.2L636,308.5L689,316.4L741.2,324.6L766.4,327.7L772.5,330.85L779.4,331.9L785.5,338.4" stroke="#00f" stroke-width="3.4" stroke-dasharray="26 27.28"/>
<path d="M185.4,493.4L334.2,489.3L500,488.9L605.7,489.3L682.8,491.2L759.9,492.7L785.5,494.3" stroke="#f00" stroke-width="3.4" />
<path d="M185.4,553L334.2,554L500,553.7L644,552.9L700,552.3L740,552.7L779.4,552.8L785.5,553.8" stroke="#0f0" stroke-width="3.4" />
<path d="M185.4,636.2L212.8,633.9L237.8,629.6L264.8,627.3L289.9,622.3L316.9,618.4L341.9,615.3L369.7,612.7L394.7,609.2L422.9,606.5L448,603.8L475.7,601.5L501.6,599.2L528.6,596.1L553.6,593.4L582.5,589.9L605.7,586.8L634.6,583L659.6,581L687.4,577.9L712.5,572.9L740.6,572.2L765.7,566.5L772.5,568.1L779.4,567.5L785.5,578.2" stroke="#00f" stroke-width="3.4" stroke-dasharray="26 27.28"/>
<path d="M185.4,684.3L770,684.3L785.5,683.6" stroke="#0f0" stroke-width="3.4" />
<path d="M185.4,837.3L740,837.3L785.5,836.6" stroke="#f00" stroke-width="3.4" />
<path d="M185.4,856.6L475,854.7L530,854.4L640,854.4L690,854.8L745,855.4L771,857L779.4,856.7L785.5,860.6" stroke="#00f" stroke-width="3.4" stroke-dasharray="26 27.28"/>
</svg></body></html>
